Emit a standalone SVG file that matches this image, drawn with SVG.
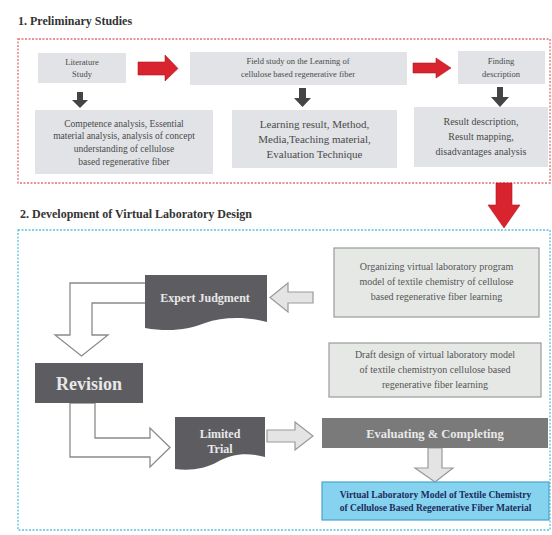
<svg xmlns="http://www.w3.org/2000/svg" width="552" height="535" viewBox="0 0 552 535" font-family="'Liberation Serif', 'DejaVu Serif', 'Times New Roman', serif">
<defs>
<style>
text{font-family:'Liberation Serif','DejaVu Serif','Times New Roman',serif;}
.title{font-size:12px;font-weight:bold;fill:#333;}
.box1{fill:#e1e3e6;}
.bt{fill:#4a4a4a;text-anchor:middle;}
.dark{fill:#5d5d61;}
.wt{fill:#e8e8e8;font-weight:bold;text-anchor:middle;}
.gbox{fill:#e6e8e6;stroke:#9a9a9a;stroke-width:1.2;}
.gt{fill:#555;text-anchor:middle;font-size:10px;}
.hollow{fill:#ffffff;stroke:#8a8a8a;stroke-width:1.3;stroke-linejoin:miter;}
.light{fill:#e4e4e4;stroke:#9a9a9a;stroke-width:1.2;}
.red{fill:#d9232e;stroke:#b01820;stroke-width:0.6;}
.blk{fill:#444;}
</style>
</defs>

<!-- section titles and frames -->
<text class="title" x="18" y="25">1. Preliminary Studies</text>
<rect x="18" y="39" width="532" height="144" fill="none" stroke="#e07070" stroke-width="1.3" stroke-dasharray="2 1.5"/>
<text class="title" x="20" y="218">2. Development of Virtual Laboratory Design</text>
<rect x="18" y="230" width="532" height="300" fill="none" stroke="#5cc0d8" stroke-width="1.3" stroke-dasharray="2 1.5"/>

<g id="connectors">
  <polygon class="red" points="138,62 165,62 165,55 178,68.5 165,81 165,75 138,75"/>
  <polygon class="red" points="413,63 436,63 436,58 451,68 436,78 436,73 413,73"/>
  <polygon class="red" points="496,183 512,183 512,205 520,205 504,228 488,205 496,205"/>
  <polygon class="blk" points="77,92 83,92 83,100 88,100 80,108 72,100 77,100"/>
  <polygon class="blk" points="299,88 306,88 306,98 311,98 302.5,107 294,98 299,98"/>
  <polygon class="blk" points="497,87 503,87 503,97 509,97 500,107 491,97 497,97"/>
  <polygon class="light" points="313,292 288,292 288,283 270,297.5 288,312 288,303 313,303"/>
  <polygon class="hollow" points="147,283 70,283 70,335 55,335 81.5,356 108,335 92,335 92,303 147,303"/>
  <polygon class="hollow" points="70,403 70,457 150,457 150,467 170,447.5 150,428 150,438 95,438 95,403"/>
  <polygon class="light" points="267,430 295,430 295,422 313,436 295,450 295,442 267,442"/>
  <polygon class="light" points="428,448 442,448 442,468 453,468 435,482 415,468 428,468"/>
</g>

<g id="literature">
  <rect class="box1" x="38" y="53" width="88" height="30"/>
  <text class="bt" font-size="8.5"><tspan x="82" y="65">Literature</tspan><tspan x="82" y="77">Study</tspan></text>
</g>
<g id="field-study">
  <rect class="box1" x="190" y="52" width="217" height="33"/>
  <text class="bt" font-size="8.5"><tspan x="298" y="64">Field study on the Learning of</tspan><tspan x="298" y="77">cellulose based regenerative fiber</tspan></text>
</g>
<g id="finding">
  <rect class="box1" x="458" y="51" width="87" height="33"/>
  <text class="bt" font-size="8.5"><tspan x="501" y="64">Finding</tspan><tspan x="501" y="77">description</tspan></text>
</g>
<g id="competence">
  <rect class="box1" x="35" y="110" width="178" height="64"/>
  <text class="bt" font-size="9.5"><tspan x="124" y="127">Competence analysis, Essential</tspan><tspan x="124" y="139">material analysis, analysis of concept</tspan><tspan x="124" y="152">understanding of cellulose</tspan><tspan x="124" y="165">based regenerative fiber</tspan></text>
</g>
<g id="learning">
  <rect class="box1" x="232" y="110" width="165" height="58"/>
  <text class="bt" font-size="11"><tspan x="314.5" y="128">Learning result, Method,</tspan><tspan x="314.5" y="143">Media,Teaching material,</tspan><tspan x="314.5" y="158">Evaluation Technique</tspan></text>
</g>
<g id="result">
  <rect class="box1" x="414" y="107" width="134" height="60"/>
  <text class="bt" font-size="10"><tspan x="481" y="125">Result description,</tspan><tspan x="481" y="140">Result mapping,</tspan><tspan x="481" y="155">disadvantages analysis</tspan></text>
</g>

<g id="organizing">
  <rect class="gbox" x="334" y="248" width="205" height="69"/>
  <text class="gt"><tspan x="436.5" y="270">Organizing virtual laboratory program</tspan><tspan x="436.5" y="285">model of textile chemistry of cellulose</tspan><tspan x="436.5" y="300">based regenerative fiber learning</tspan></text>
</g>
<g id="draft">
  <rect class="gbox" x="329" y="343" width="212" height="54"/>
  <text class="gt"><tspan x="435" y="358">Draft design of virtual laboratory model</tspan><tspan x="435" y="373">of textile chemistryon cellulose based</tspan><tspan x="435" y="388">regenerative fiber learning</tspan></text>
</g>
<g id="expert">
  <path class="dark" d="M145,275 H267 V322 C245,316 222,317 205,323 C188,330 168,332 145,328 Z"/>
  <text class="wt" x="205" y="302" font-size="12">Expert Judgment</text>
</g>
<g id="revision">
  <rect class="dark" x="35" y="363" width="108" height="40"/>
  <text class="wt" x="89" y="390" font-size="18">Revision</text>
</g>
<g id="limited">
  <path class="dark" d="M175,417 H265 V457 C247,452 232,454 219,461 C205,469 190,471 175,469 Z"/>
  <text class="wt" font-size="12"><tspan x="220" y="438">Limited</tspan><tspan x="220" y="453">Trial</tspan></text>
</g>
<g id="evaluating">
  <rect x="322" y="418" width="226" height="30" fill="#7a7a7a"/>
  <text class="wt" x="435" y="438" font-size="12.5">Evaluating &amp; Completing</text>
</g>
<g id="final">
  <rect x="322" y="482" width="227" height="38" fill="#86d3ef" stroke="#4aa6cc" stroke-width="1.2"/>
  <text font-size="9.5" font-weight="bold" fill="#1c2c5c" text-anchor="middle"><tspan x="435.5" y="498">Virtual Laboratory Model of  Textile Chemistry</tspan><tspan x="435.5" y="511">of Cellulose Based Regenerative Fiber Material</tspan></text>
</g>
</svg>
